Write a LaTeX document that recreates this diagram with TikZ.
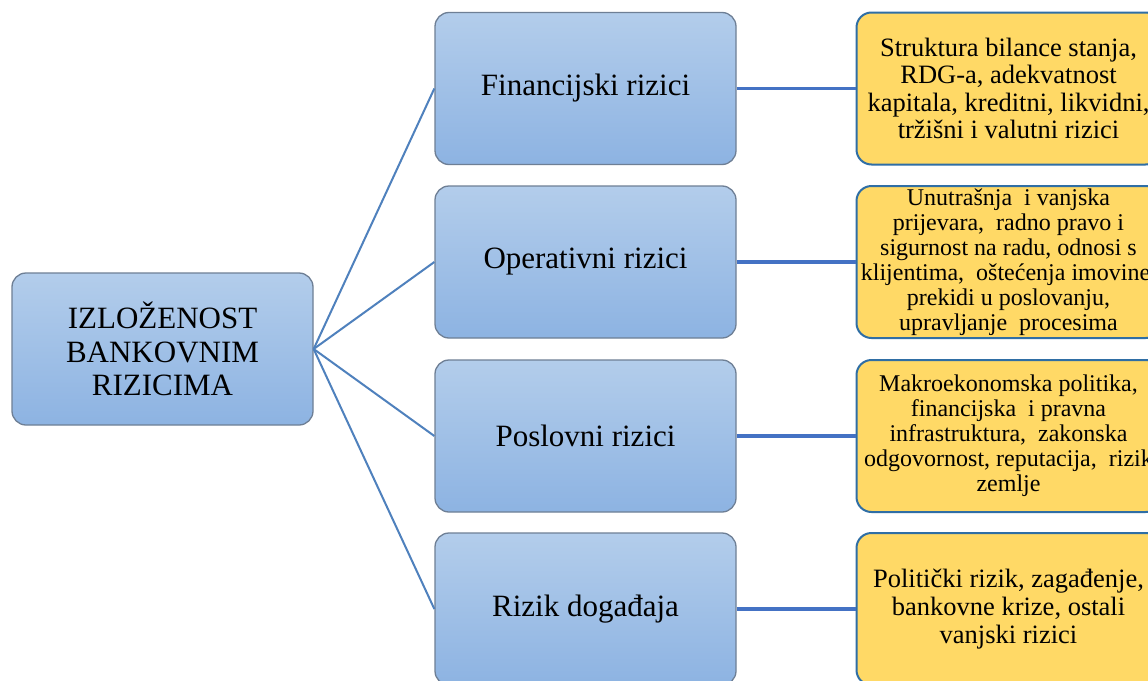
\documentclass[tikz,border=0pt]{standalone}
\usepackage{fontspec}
\setmainfont{Liberation Serif}
\definecolor{midtop}{HTML}{B3CDEB}
\definecolor{midbot}{HTML}{8DB3E2}
\definecolor{midborder}{HTML}{6E7F95}
\definecolor{yfill}{HTML}{FFD966}
\definecolor{yborder}{HTML}{2F6EA5}
\definecolor{leftln}{HTML}{4F81BD}
\definecolor{rightln}{HTML}{4472C4}
\tikzset{
  bluebox/.style={rectangle, rounded corners=14pt, draw=midborder, line width=1.3pt,
    top color=midtop, bottom color=midbot, minimum width=301pt, minimum height=152pt,
    align=center, inner sep=0pt, text=black},
  yellowbox/.style={rectangle, rounded corners=15pt, draw=yborder, line width=2pt,
    fill=yfill, minimum width=304pt, minimum height=152pt, align=center, inner sep=0pt, text=black},
  leftline/.style={draw=leftln, line width=2pt},
  rightline/.style={draw=rightln, line width=3.5pt},
}
\begin{document}
\begin{tikzpicture}[x=1pt,y=1pt]
\useasboundingbox (0,0) rectangle (1148,-680);
\clip (0,0) rectangle (1148,-680);
\fill[white] (0,0) rectangle (1148,-680);

\node[bluebox, font=\fontsize{31}{33.5}\selectfont] (root) at (162.5,-349) {IZLOŽENOST\\BANKOVNIM\\RIZICIMA};

\node[bluebox, font=\fontsize{31}{34}\selectfont] (m1) at (585.5,-88.5) {Financijski rizici};
\node[bluebox, font=\fontsize{31}{34}\selectfont] (m2) at (585.5,-262) {Operativni rizici};
\node[bluebox, font=\fontsize{31}{34}\selectfont] (m3) at (585.5,-436) {Poslovni rizici};
\node[bluebox, font=\fontsize{31}{34}\selectfont] (m4) at (585.5,-609) {Rizik događaja};

\node[yellowbox, font=\fontsize{26.5}{27.5}\selectfont] (r1) at (1008.5,-88.5)
  {Struktura bilance stanja,\\RDG-a, adekvatnost\\kapitala, kreditni, likvidni,\\tržišni i valutni rizici};
\node[yellowbox, font=\fontsize{24}{25}\selectfont] (r2) at (1008.5,-262)
  {Unutrašnja\ \ i vanjska\\prijevara,\ \ radno pravo i\\sigurnost na radu, odnosi s\\klijentima,\ \ oštećenja imovine,\\prekidi u poslovanju,\\upravljanje\ \ procesima};
\node[yellowbox, font=\fontsize{24}{25}\selectfont] (r3) at (1008.5,-436)
  {Makroekonomska politika,\\financijska\ \ i pravna\\infrastruktura,\ \ zakonska\\odgovornost, reputacija,\ \ rizik\\zemlje};
\node[yellowbox, font=\fontsize{26.5}{28}\selectfont] (r4) at (1008.5,-609)
  {Politički rizik, zagađenje,\\bankovne krize, ostali\\vanjski rizici};

\draw[leftline] (root.east) -- (m1.west);
\draw[leftline] (root.east) -- (m2.west);
\draw[leftline] (root.east) -- (m3.west);
\draw[leftline] (root.east) -- (m4.west);

\draw[rightline] (m1.east) -- (r1.west);
\draw[rightline] (m2.east) -- (r2.west);
\draw[rightline] (m3.east) -- (r3.west);
\draw[rightline] (m4.east) -- (r4.west);
\end{tikzpicture}
\end{document}
